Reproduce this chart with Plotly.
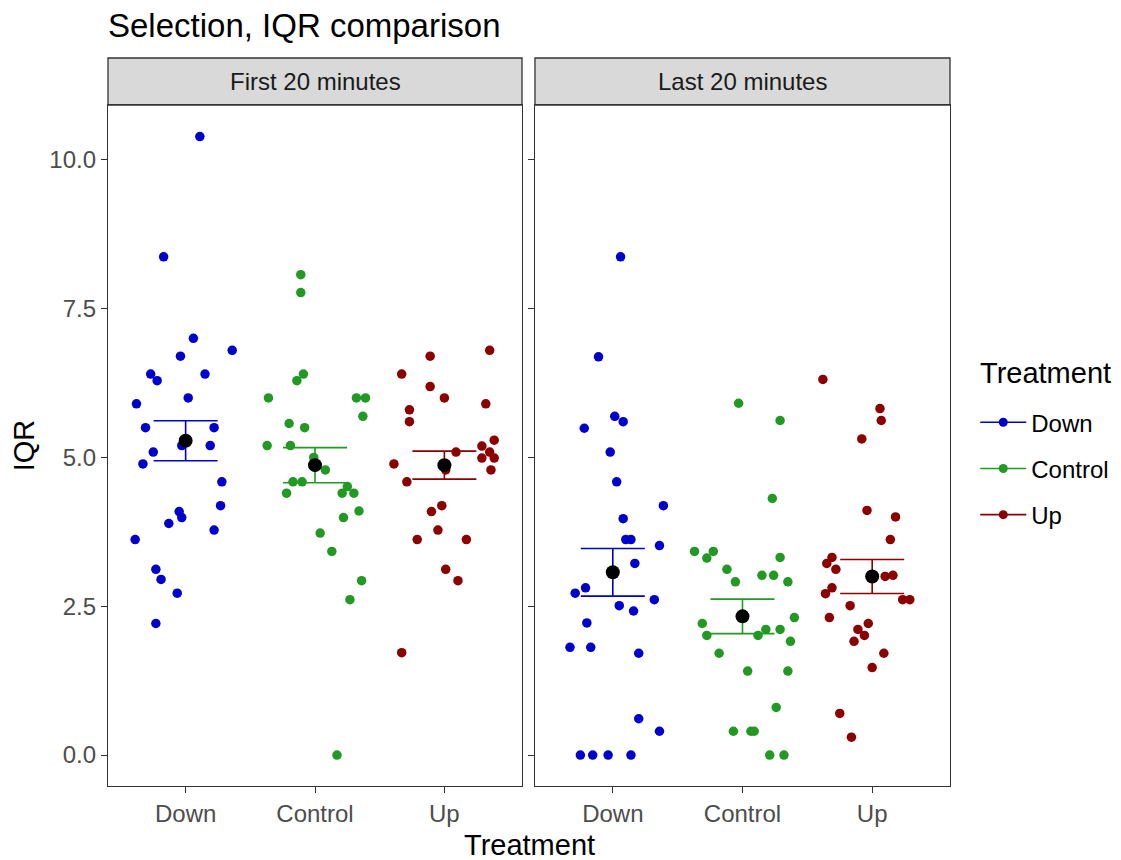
import plotly.graph_objects as go

# categories and facets
treatments = ['Down', 'Control', 'Up']
periods = ['First 20 minutes', 'Last 20 minutes']
colors = {'Down': '#0000CD', 'Control': '#229922', 'Up': '#8B0000'}

# IQR values, with the horizontal jitter of each point
first_down_iqr = [10.39, 8.37, 7.0, 6.7, 6.8, 6.4, 6.29, 6.4, 5.9, 6.0, 5.5, 5.5, 5.2, 5.2,
                  5.09, 4.89, 4.59, 4.19, 4.09, 3.99, 3.89, 3.78, 3.62, 3.12, 2.95, 2.72, 2.21]
first_down_jit = [0.11, -0.17, 0.06, -0.04, 0.36, -0.27, -0.22, 0.15, -0.38, 0.02, -0.31, 0.22, -0.03, 0.19,
                  -0.25, -0.33, 0.28, 0.27, -0.05, -0.03, -0.13, 0.22, -0.39, -0.23, -0.19, -0.065, -0.23]

first_control_iqr = [8.07, 7.77, 6.4, 6.29, 6.0, 5.57, 5.5, 5.2, 5.2, 5.0, 4.59, 4.59, 4.4, 3.73,
                     6.0, 6.0, 5.69, 4.79, 4.4, 4.4, 4.51, 4.1, 3.99, 3.42, 2.93, 2.61, 0.0]
first_control_jit = [-0.11, -0.11, -0.09, -0.14, -0.36, -0.2, -0.08, -0.37, -0.19, -0.01, -0.17, -0.1, -0.22, 0.04,
                     0.32, 0.39, 0.37, 0.08, 0.21, 0.3, 0.25, 0.34, 0.22, 0.13, 0.36, 0.27, 0.17]

first_up_iqr = [6.8, 6.7, 6.4, 6.19, 6.0, 5.8, 5.6, 5.9, 5.29, 5.19, 5.09, 4.99, 4.99, 4.79,
                5.09, 4.89, 4.79, 4.59, 4.19, 4.09, 3.78, 3.62, 3.62, 3.12, 2.93, 1.72]
first_up_jit = [0.35, -0.11, -0.33, -0.11, 0.0, -0.27, -0.27, 0.32, 0.385, 0.29, 0.35, 0.29, 0.385, 0.36,
                0.09, -0.39, 0.01, -0.29, -0.02, -0.1, -0.05, -0.21, 0.17, 0.01, 0.105, -0.33]

last_down_iqr = [8.37, 6.69, 5.69, 5.6, 5.49, 5.09, 4.59, 4.19, 3.97, 3.62, 3.62, 3.52, 3.22, 2.81,
                 2.72, 2.61, 2.51, 2.42, 2.22, 1.81, 1.81, 1.71, 0.61, 0.4, 0.0, 0.0, 0.0, 0.0]
last_down_jit = [0.06, -0.11, 0.015, 0.08, -0.22, -0.02, 0.03, 0.39, 0.08, 0.1, 0.14, 0.36, 0.17, -0.21,
                 -0.29, 0.32, 0.05, 0.16, -0.2, -0.33, -0.17, 0.2, 0.2, 0.36, -0.25, -0.155, -0.036, 0.14]

last_control_iqr = [5.91, 5.62, 4.31, 3.42, 3.31, 3.42, 3.32, 3.12, 2.91, 3.02, 3.02, 2.91, 2.21, 2.01,
                    2.31, 2.11, 2.01, 2.11, 1.91, 1.71, 1.41, 1.41, 0.8, 0.4, 0.4, 0.4, 0.0, 0.0]
last_control_jit = [-0.03, 0.29, 0.23, -0.37, -0.275, -0.225, 0.29, -0.12, -0.055, 0.15, 0.24, 0.35, -0.31, -0.275,
                    0.4, 0.18, 0.12, 0.29, 0.37, -0.18, 0.04, 0.35, 0.26, -0.07, 0.065, 0.09, 0.21, 0.32]

last_up_iqr = [6.31, 5.82, 5.62, 5.31, 4.11, 4.0, 3.62, 3.32, 3.22, 3.12, 3.02, 3.0, 2.81, 2.71,
               2.61, 2.61, 2.51, 2.31, 2.21, 2.11, 2.01, 1.91, 1.71, 1.47, 0.7, 0.3]
last_up_jit = [-0.38, 0.06, 0.07, -0.08, -0.04, 0.18, 0.14, -0.31, -0.35, -0.28, 0.16, 0.1, -0.31, -0.36,
               0.235, 0.29, -0.17, -0.33, -0.03, -0.11, -0.06, -0.14, 0.09, 0.0, -0.25, -0.16]

# mean and standard error per facet (Down, Control, Up)
first_mean = [5.28, 4.87, 4.87]
first_se = [0.335, 0.295, 0.235]
last_mean = [3.07, 2.33, 3.0]
last_se = [0.40, 0.29, 0.285]

points = {
    'First 20 minutes': {'Down': (first_down_iqr, first_down_jit),
                         'Control': (first_control_iqr, first_control_jit),
                         'Up': (first_up_iqr, first_up_jit)},
    'Last 20 minutes': {'Down': (last_down_iqr, last_down_jit),
                        'Control': (last_control_iqr, last_control_jit),
                        'Up': (last_up_iqr, last_up_jit)},
}
summary = {'First 20 minutes': (first_mean, first_se), 'Last 20 minutes': (last_mean, last_se)}

fig = go.Figure()

for k, period in enumerate(periods):
    xa = 'x' if k == 0 else 'x2'
    ya = 'y' if k == 0 else 'y2'
    means, ses = summary[period]
    for i, t in enumerate(treatments):
        vals, jit = points[period][t]
        fig.add_trace(go.Scatter(
            x=[i + 1 + j for j in jit], y=vals, mode='markers',
            marker=dict(color=colors[t], size=9.5), showlegend=False,
            xaxis=xa, yaxis=ya, hoverinfo='y'))
    for i, t in enumerate(treatments):
        fig.add_trace(go.Scatter(
            x=[i + 1], y=[means[i]], mode='markers',
            marker=dict(color='rgba(0,0,0,0)', size=1),
            error_y=dict(type='data', array=[ses[i]], color=colors[t], thickness=1.6, width=32),
            showlegend=False, xaxis=xa, yaxis=ya, hoverinfo='skip'))
    fig.add_trace(go.Scatter(
        x=[1, 2, 3], y=means, mode='markers',
        marker=dict(color='black', size=14), showlegend=False,
        xaxis=xa, yaxis=ya))

# legend entries (line + dot like the ggplot key)
for t in treatments:
    fig.add_trace(go.Scatter(
        x=[None], y=[None], mode='lines+markers', name=t, legendgroup=t,
        line=dict(color=colors[t], width=1.6), marker=dict(color=colors[t], size=9)))

axis_common = dict(
    range=[0.4, 3.6], tickvals=[1, 2, 3], ticktext=treatments,
    showline=True, mirror=True, linecolor='#333333', linewidth=1.3,
    ticks='outside', ticklen=6, tickcolor='#333333', showgrid=False, zeroline=False,
    tickfont=dict(size=24, color='#4D4D4D'), automargin=False,
)
yaxis_common = dict(
    range=[-0.52, 10.92], tickvals=[0, 2.5, 5, 7.5, 10],
    showline=True, mirror=True, linecolor='#333333', linewidth=1.3,
    ticks='outside', ticklen=6, tickcolor='#333333', showgrid=False, zeroline=False,
    tickfont=dict(size=24, color='#4D4D4D'), domain=[0, 0.9354], automargin=False,
)

panel_doms = [[0, 0.4917], [0.5071, 1]]

# the page adds an 8px body margin, so the figure is a bit smaller than the window
fig.update_layout(
    width=1113, height=852,
    margin=dict(l=100, r=171, t=50, b=74, autoexpand=False),
    paper_bgcolor='white', plot_bgcolor='white',
    font=dict(family='Liberation Sans, Arial, sans-serif', color='black'),
    title=dict(text='Selection, IQR comparison', x=0, xref='paper', xanchor='left',
               y=0.979, yanchor='middle', yref='container', font=dict(size=33, color='black')),
    xaxis=dict(domain=panel_doms[0], anchor='y', **axis_common),
    xaxis2=dict(domain=panel_doms[1], anchor='y2', **axis_common),
    yaxis=dict(anchor='x', tickformat='.1f',
               title=dict(text='IQR', font=dict(size=29, color='black'), standoff=12), **yaxis_common),
    yaxis2=dict(anchor='x2', matches='y', showticklabels=False, **yaxis_common),
    legend=dict(x=1.03, xanchor='left', y=0.53, yanchor='top',
                font=dict(size=24, color='black'), tracegroupgap=12, itemwidth=46),
    showlegend=True,
)

# facet strips
for k, period in enumerate(periods):
    d0, d1 = panel_doms[k]
    fig.add_shape(type='rect', xref='paper', yref='paper', x0=d0, x1=d1, y0=0.9354, y1=1.0,
                  fillcolor='#D9D9D9', line=dict(color='#333333', width=1.3), layer='below')
    fig.add_annotation(text=period, xref='paper', yref='paper', x=(d0 + d1) / 2, y=0.9677,
                       showarrow=False, font=dict(size=24, color='#1A1A1A'),
                       xanchor='center', yanchor='middle')

# legend title
fig.add_annotation(text='Treatment', xref='paper', yref='paper', x=1.0333, y=0.567,
                   showarrow=False, font=dict(size=29, color='black'),
                   xanchor='left', yanchor='middle')

# shared x axis title
fig.add_annotation(text='Treatment', xref='paper', yref='paper', x=0.5, y=-0.081,
                   showarrow=False, font=dict(size=29, color='black'),
                   xanchor='center', yanchor='middle')

fig.write_html("out.html")
